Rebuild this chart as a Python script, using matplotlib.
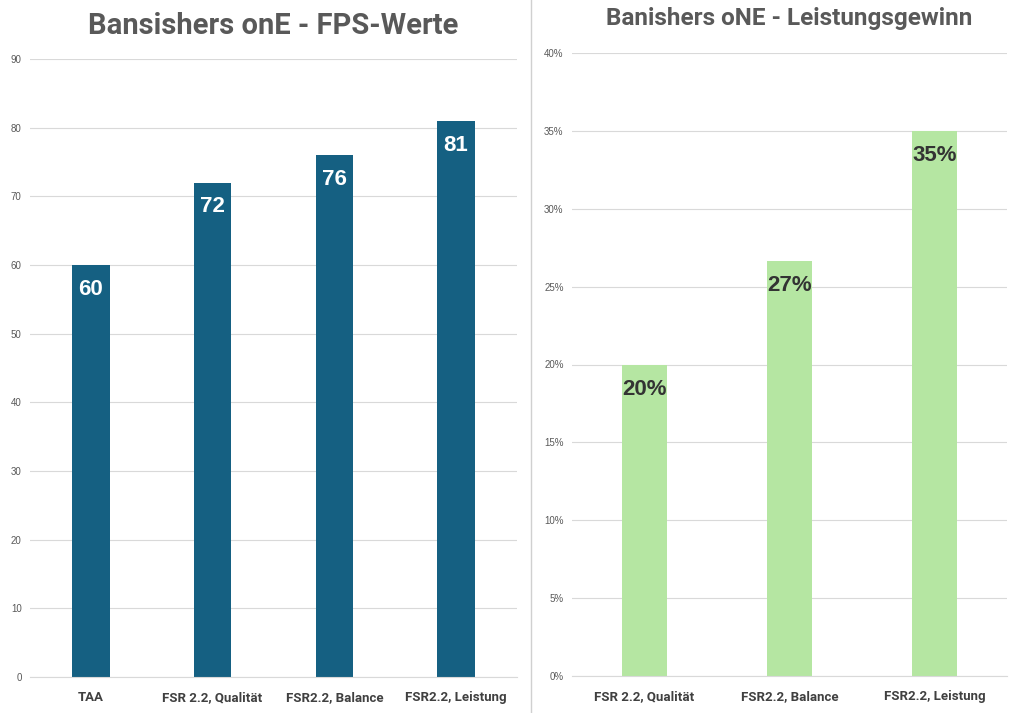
import matplotlib.pyplot as plt
from matplotlib.lines import Line2D
from matplotlib.ticker import FuncFormatter

plt.rcParams['font.family'] = ['Roboto', 'DejaVu Sans']

# left chart: fps
fps_labels = ['TAA', 'FSR 2.2, Qualität', 'FSR2.2, Balance', 'FSR2.2, Leistung']
fps_values = [60, 72, 76, 81]

# right chart: gain over TAA
gain_labels = ['FSR 2.2, Qualität', 'FSR2.2, Balance', 'FSR2.2, Leistung']
gain_values = [0.20, 0.2667, 0.35]

blue = '#156082'
green = '#b5e6a2'
grid = '#d9d9d9'
txt = '#595959'

fig = plt.figure(figsize=(10.2, 7.13), dpi=100)
ax1 = fig.add_axes([30/1020, 1-677/713, 487/1020, 618/713])
ax2 = fig.add_axes([572/1020, 1-676/713, 435/1020, 623/713])


def style(ax):
    for s in ['top', 'right', 'left']:
        ax.spines[s].set_visible(False)
    ax.spines['bottom'].set_color(grid)
    ax.grid(axis='y', color=grid, linewidth=0.8)
    ax.set_axisbelow(True)
    ax.tick_params(axis='y', length=0, labelsize=7, labelcolor=txt, pad=6)
    ax.tick_params(axis='x', length=0, pad=10)
    for lbl in ax.get_yticklabels():
        lbl.set_family(['Liberation Sans', 'DejaVu Sans'])
    for lbl in ax.get_xticklabels():
        lbl.set_fontsize(9.5)
        lbl.set_fontweight('bold')
        lbl.set_color('#404040')


bars = ax1.bar(range(len(fps_values)), fps_values, width=0.31, color=blue)
ax1.set_xlim(-0.5, len(fps_values) - 0.5)
ax1.set_ylim(0, 90)
ax1.set_yticks(range(0, 91, 10))
ax1.set_xticks(range(len(fps_labels)))
ax1.set_xticklabels(fps_labels)
style(ax1)
for b, v in zip(bars, fps_values):
    ax1.text(b.get_x() + b.get_width()/2, v - 2.0, str(v), ha='center', va='top',
             color='white', fontsize=16, fontweight='bold', fontstretch='normal',
             family=['Liberation Sans', 'DejaVu Sans'])
ax1.set_title('Bansishers onE - FPS-Werte', fontsize=21, fontweight='bold', color=txt, pad=18)

bars = ax2.bar(range(len(gain_values)), gain_values, width=0.31, color=green)
ax2.set_xlim(-0.5, len(gain_values) - 0.5)
ax2.set_ylim(0, 0.4)
ax2.set_yticks([i*0.05 for i in range(9)])
ax2.yaxis.set_major_formatter(FuncFormatter(lambda v, p: f'{v*100:.0f}%'))
ax2.set_xticks(range(len(gain_labels)))
ax2.set_xticklabels(gain_labels)
style(ax2)
for b, v in zip(bars, gain_values):
    ax2.text(b.get_x() + b.get_width()/2, v - 0.009, f'{v*100:.0f}%', ha='center', va='top',
             color='#333333', fontsize=16, fontweight='bold', fontstretch='normal',
             family=['Liberation Sans', 'DejaVu Sans'])
ax2.set_title('Banishers oNE - Leistungsgewinn', fontsize=17.5, fontweight='bold', color=txt, pad=20)

fig.add_artist(Line2D([531/1020, 531/1020], [0, 1], color='#d0d0d0', linewidth=1))

fig.savefig('out.png', dpi=100)
